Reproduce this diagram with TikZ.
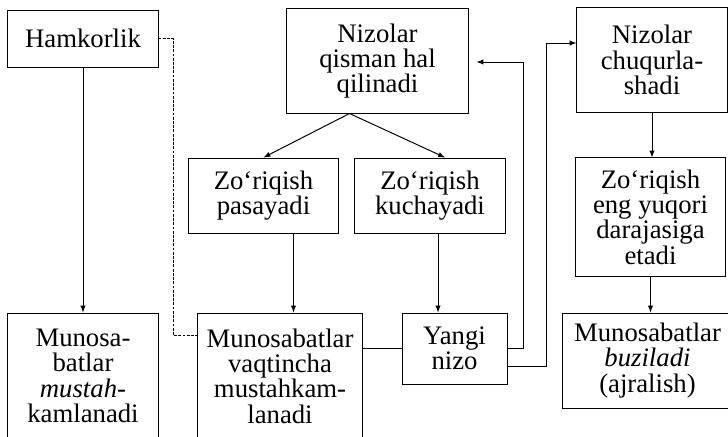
\documentclass[tikz,border=0pt]{standalone}
\usepackage{fontspec}
\setmainfont{Liberation Serif}
\begin{document}
\begin{tikzpicture}[x=0.025cm,y=-0.025cm,line width=0.7pt,>=latex,
  blok/.style={draw,align=center,inner sep=0pt,font=\fontsize{19}{18}\selectfont},
  nuqta/.style={dash pattern=on 2pt off 1pt}]
\useasboundingbox (0,0) rectangle (728,436);
\clip (0,0) rectangle (728,436);
% yuqori qator
\node[blok,minimum width=3.75cm,minimum height=1.425cm] (ham) at (83,38.5) {Hamkorlik};
\node[blok,minimum width=4.525cm,minimum height=2.6cm] (qisman) at (377.5,61) {Nizolar\\qisman hal\\qilinadi};
\node[blok,minimum width=3.75cm,minimum height=2.6cm] (chuq) at (652,60) {Nizolar\\chuqurla-\\shadi};
% o'rta qator
\node[blok,minimum width=3.725cm,minimum height=1.875cm] (pas) at (263.5,195.5) {Zo‘riqish\\pasayadi};
\node[blok,minimum width=3.75cm,minimum height=1.875cm] (kuch) at (430,195.5) {Zo‘riqish\\kuchayadi};
\node[blok,minimum width=3.725cm,minimum height=2.95cm] (eng) at (650.5,217) {Zo‘riqish\\eng yuqori\\darajasiga\\etadi};
% pastki qator
\node[blok,minimum width=3.75cm,minimum height=3.15cm] (mus) at (83,376) {Munosa-\\batlar\\\textit{mustah-}\\kamlanadi};
\node[blok,minimum width=4.1cm,minimum height=3.15cm] (vaq) at (280,376) {Munosabatlar\\vaqtincha\\mustahkam-\\lanadi};
\node[blok,minimum width=2.625cm,minimum height=1.775cm] (nizo) at (454.5,348.5) {Yangi\\nizo};
\node[blok,minimum width=4.225cm,minimum height=2.375cm] (buz) at (647.5,360.5) {Munosabatlar\\\textit{buziladi}\\(ajralish)};
% bog'lanishlar
\coordinate (d1) at (173,335);
\coordinate (b1) at (523,62);
\coordinate (b2) at (546,43);
\draw[->] (ham) -- (mus);
\draw[nuqta] (ham.east) -| (d1) -- (vaq.west |- d1);
\draw[->] ([xshift=-0.7cm]qisman.south) -- (pas.north);
\draw[->] ([xshift=-0.7cm]qisman.south) -- ([xshift=0.375cm]kuch.north);
\draw[->] ([xshift=0.75cm]pas.south) -- ([xshift=0.75cm]pas.south |- vaq.north);
\draw[->] ([xshift=0.2cm]kuch.south) -- ([xshift=0.2cm]kuch.south |- nizo.north);
\draw (nizo.west -| vaq.east) -- (nizo.west);
\draw[->,shorten >=0.2cm] (nizo.east) -| (b1) -- (qisman.east |- b1);
\draw[->] ([yshift=-0.45cm]nizo.east) -| (b2) -- (chuq.west |- b2);
\draw[->] (chuq.south) -- (chuq.south |- eng.north);
\draw[->] (eng.south) -- (eng.south |- buz.north);
\end{tikzpicture}
\end{document}
